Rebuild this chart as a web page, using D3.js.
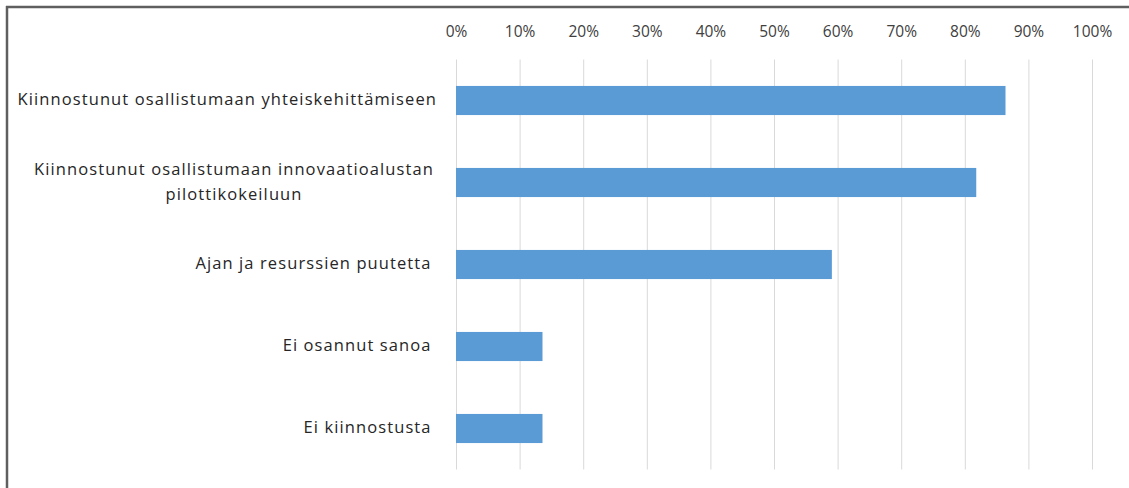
<!DOCTYPE html>
<html lang="fi">

<head>
  <meta charset="UTF-8">
  <script src="https://cdn.jsdelivr.net/npm/d3@7"></script>
  <title>Kiinnostus</title>
  <style>
    body { margin: 0; background: #fff; }
    text { font-family: "Open Sans", sans-serif; white-space: pre; }
  </style>
</head>

<body>
  <svg width="1129" height="488"></svg>
</body>
<script>
  // data
  const categories = [
    ["Kiinnostunut osallistumaan yhteiskehittämiseen"],
    ["Kiinnostunut osallistumaan innovaatioalustan", "pilottikokeiluun"],
    ["Ajan ja resurssien puutetta "],
    ["Ei osannut sanoa "],
    ["Ei kiinnostusta "]
  ];
  const values = [0.864, 0.818, 0.591, 0.136, 0.136];
  const xTicks = [0, 0.1, 0.2, 0.3, 0.4, 0.5, 0.6, 0.7, 0.8, 0.9, 1];

  const data = categories.map((c, i) => ({ key: i, lines: c, value: values[i] }));

  const svg = d3.select("svg");

  // frame (screenshot border, top + left)
  svg.append("line")
    .attr("x1", 6).attr("x2", 1129).attr("y1", 7).attr("y2", 7)
    .attr("stroke", "#5f5f5f").attr("stroke-width", 2.5);
  svg.append("line")
    .attr("x1", 7).attr("x2", 7).attr("y1", 6).attr("y2", 488)
    .attr("stroke", "#5f5f5f").attr("stroke-width", 2.5);

  const xScale = d3.scaleLinear().domain([0, 1]).range([456, 1092]);
  const yScale = d3.scaleBand()
    .domain(data.map(d => d.key))
    .range([59.5, 469.5])
    .paddingInner(0.645)
    .paddingOuter(0.3225);

  /**
   * x轴 + gridlines
   */
  const xAxis = svg.append("g")
    .attr("class", "axis--x")
    .attr("transform", "translate(0,59.5)")
    .call(d3.axisTop(xScale).tickValues(xTicks).tickFormat(d3.format(".0%")).tickSize(0).tickPadding(23));

  xAxis.select(".domain").remove();
  xAxis.selectAll(".tick text")
    .attr("fill", "#404040")
    .style("font-size", "15.5px")
    .style("font-family", "Open Sans, sans-serif");

  xAxis.selectAll(".tick")
    .append("line")
    .attr("y2", 410)
    .attr("stroke", "#d9d9d9")
    .attr("stroke-width", 1);

  /**
   * bars
   */
  svg.append("g")
    .selectAll("rect")
    .data(data)
    .join("rect")
    .attr("x", xScale(0))
    .attr("y", d => yScale(d.key))
    .attr("width", d => xScale(d.value) - xScale(0))
    .attr("height", yScale.bandwidth())
    .attr("fill", "#5b9bd5");

  /**
   * category labels
   */
  const labels = svg.append("g")
    .selectAll("text")
    .data(data)
    .join("text")
    .attr("fill", "#262626")
    .style("font-size", "16.5px")
    .style("letter-spacing", "1.1px")
    .attr("y", d => yScale(d.key) + yScale.bandwidth() / 2);

  labels.each(function (d) {
    const t = d3.select(this);
    if (d.lines.length === 1) {
      t.attr("x", 437).attr("text-anchor", "end").attr("dy", "0.3em").text(d.lines[0]);
    } else {
      t.attr("x", 234).attr("text-anchor", "middle");
      d.lines.forEach((line, i) => {
        t.append("tspan")
          .attr("x", 234)
          .attr("dy", i === 0 ? "-0.45em" : "1.5em")
          .text(line);
      });
    }
  });
</script>

</html>
